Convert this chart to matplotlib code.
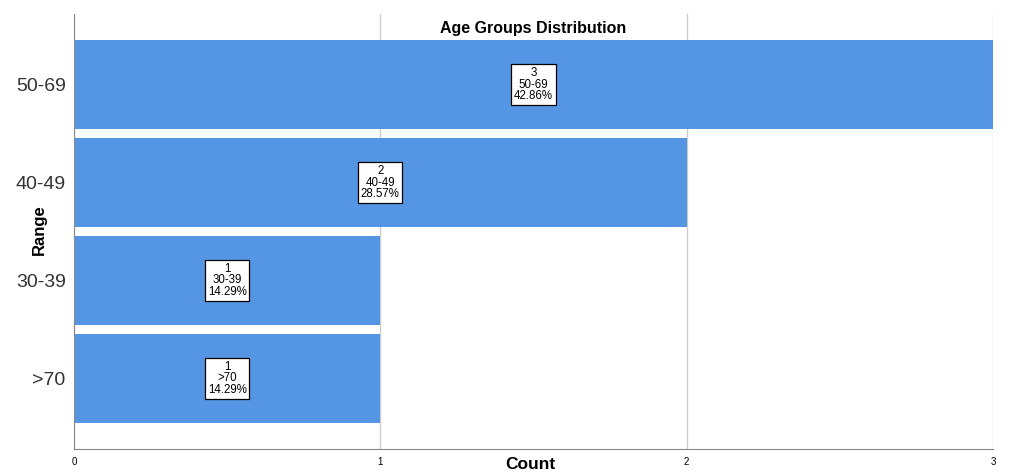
import matplotlib.pyplot as plt

# datos
rangos = ['>70', '30-39', '40-49', '50-69']
conteos = [1, 1, 2, 3]
porcentajes = ['14.29%', '14.29%', '28.57%', '42.86%']

plt.rcParams['font.family'] = ['Liberation Sans', 'DejaVu Sans']

fig = plt.figure(figsize=(10.15, 4.73), dpi=100)
ax = fig.add_axes([0.0729, 0.0507, 0.9054, 0.9197])

barras = ax.barh(range(len(rangos)), conteos, height=0.9, color='#5596e4', zorder=2)

# cajas con los valores
for i, (c, r, p) in enumerate(zip(conteos, rangos, porcentajes)):
    ax.text(c / 2, i, f'{c}\n{r}\n{p}', ha='center', va='center', fontsize=8.3,
            linespacing=0.95, zorder=3,
            bbox=dict(boxstyle='square,pad=0.22', fc='white', ec='black', lw=0.9))

ax.set_xlim(0, 3)
ax.set_ylim(-0.72, 3.72)
ax.set_yticks(range(len(rangos)))
ax.set_yticklabels(rangos, fontsize=14, color='#333333')
ax.set_xticks([0, 1, 2, 3])
ax.set_xticklabels(['0', '1', '2', '3'], fontsize=7)
ax.tick_params(length=0, pad=6)
ax.tick_params(axis='x', pad=6)
ax.grid(axis='x', color='#cccccc', lw=1, zorder=0)

for s in ['top', 'right']:
    ax.spines[s].set_visible(False)
ax.spines['left'].set_color('#888888')
ax.spines['bottom'].set_color('#888888')

ax.text(0.5, 0.985, 'Age Groups Distribution', transform=ax.transAxes, ha='center',
        va='top', fontsize=11.5, fontweight='bold', zorder=4)
fig.text(0.5225, 0.002, 'Count', ha='center', va='bottom', fontsize=12.5, fontweight='bold')
fig.text(0.039, 0.515, 'Range', ha='center', va='center', rotation=90, fontsize=12, fontweight='bold')

fig.savefig('out.png', dpi=100)
